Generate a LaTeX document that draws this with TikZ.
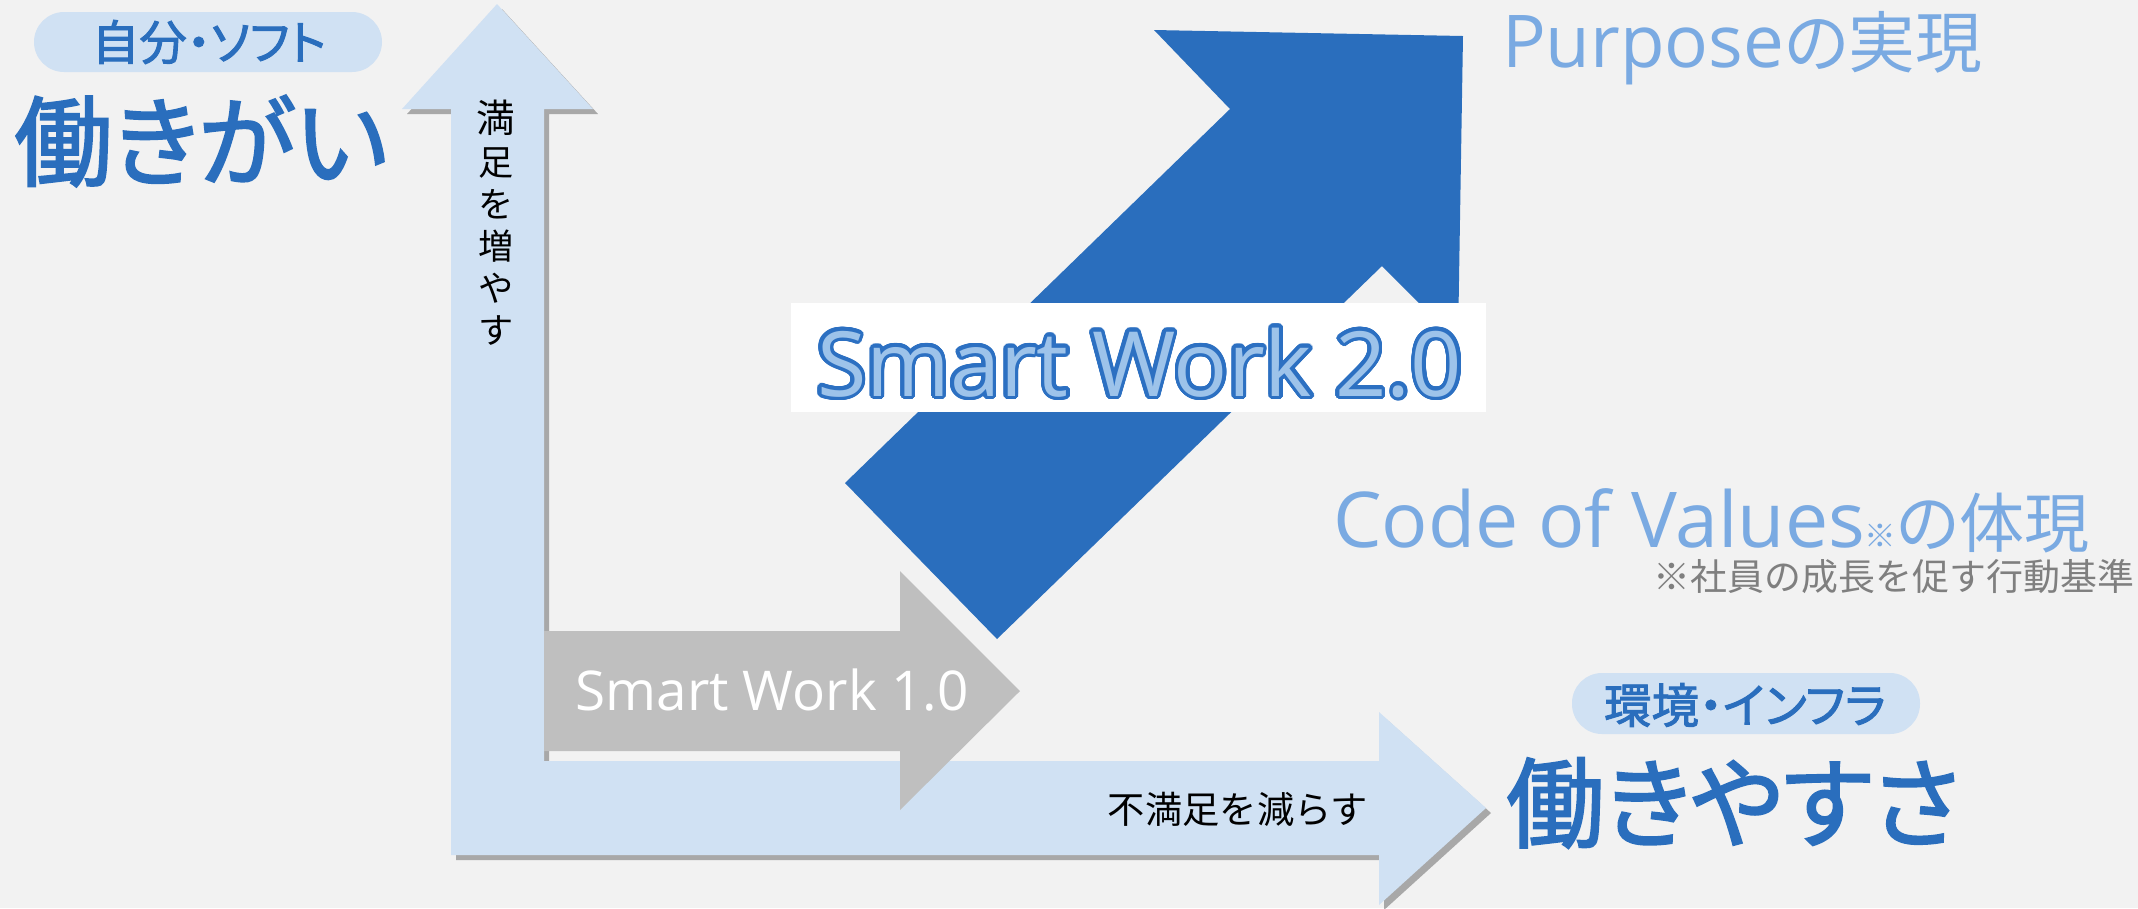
\documentclass[tikz,border=0pt]{standalone}
\usepackage{fontspec}
\setmainfont{Noto Sans CJK JP}
\newfontfamily\jpp[RawFeature=+palt]{Noto Sans CJK JP}
\newfontfamily\jpm[RawFeature=+palt,FakeBold=2]{Noto Sans CJK JP}
\newfontfamily\lat{Open Sans}
\usepackage{contour}
\contournumber{32}
\usetikzlibrary{shadows}
\definecolor{bg}{HTML}{F2F2F2}
\definecolor{lblue}{HTML}{D0E1F3}
\definecolor{arrgray}{HTML}{BFBFBF}
\definecolor{dblue}{HTML}{2A6EBD}
\definecolor{mblue}{HTML}{7AAAE2}
\definecolor{swfill}{HTML}{9DC3EA}
\definecolor{swline}{HTML}{2C70C2}
\definecolor{notegray}{HTML}{7F7F7F}
\tikzset{
  lshadow/.style={drop shadow={shadow xshift=0.05cm,shadow yshift=-0.05cm,fill=black,opacity=0.3}},
  txt/.style={inner sep=0pt,outer sep=0pt},
  pill/.style={fill=lblue,rounded corners=0.3cm},
}
\begin{document}
\begin{tikzpicture}[x=0.01cm,y=-0.01cm]
\fill[bg] (0,0) rectangle (2138,908);
\useasboundingbox (0,0) rectangle (2138,908);
% L shaped arrow
\fill[lblue,lshadow] (451,109) -- (402,109) -- (497,4) -- (593,109) -- (544,109)
  -- (544,761) -- (1379,761) -- (1379,712) -- (1486,808) -- (1379,905) -- (1379,855)
  -- (451,855) -- cycle;
% gray arrow
\fill[arrgray] (544,631) -- (900,631) -- (900,571) -- (1020,691) -- (900,810)
  -- (900,751) -- (544,751) -- cycle;
% blue diagonal arrow
\fill[dblue] (845,483) -- (1230,109) -- (1154,30) -- (1463,36) -- (1458,342)
  -- (1382,266) -- (997,639) -- cycle;
% white box
\fill[white] (791,303) rectangle (1486,412);
\node[txt,anchor=base west] (sw2) at (817,396)
  {\fontsize{25.6pt}{25.6pt}\lat\contourlength{1pt}\textcolor{swfill}{\contour{swline}{Smart Work 2.0}}};
\node[txt,anchor=center,text=white] (sw1) at (772,690) {\fontsize{15.6pt}{15.6pt}\lat Smart Work 1.0};
% labels
\fill[pill] (34,12) rectangle (382,72);
\node[txt,text=dblue] (soft) at (209,42) {\fontsize{13.5pt}{13.5pt}\jpm 自分・ソフト};
\node[txt,text=dblue,anchor=west] (gai) at (14,141) {\fontsize{28pt}{28pt}\jpm 働きがい};
\fill[pill] (1572,673) rectangle (1920,734);
\node[txt,text=dblue] (infra) at (1745,705) {\fontsize{13.5pt}{13.5pt}\jpm 環境・インフラ};
\node[txt,text=dblue,anchor=west] (yasu) at (1506,803) {\fontsize{28pt}{28pt}\jpm 働きやすさ};
\node[txt,align=center] (up) at (496,223) {\fontsize{11pt}{10.6pt}\selectfont\lineskiplimit=-\maxdimen 満\\足\\を\\増\\や\\す};
\node[txt] (down) at (1238,809) {\fontsize{10.6pt}{10.6pt}\selectfont 不満足を減らす};
\node[txt,text=mblue,anchor=base west] (purpose) at (1502,67)
  {\fontsize{20.7pt}{20.7pt}\lat Purpose\jpp\fontsize{19pt}{19pt}\selectfont の実現};
\node[txt,text=mblue,anchor=base west] (code) at (1333,547)
  {\fontsize{21.9pt}{21.9pt}\lat Code of Values{\jpp\fontsize{9pt}{9pt}\selectfont ※}\jpp\fontsize{18.5pt}{18.5pt}\selectfont の体現};
\node[txt,text=notegray,anchor=base east] (note) at (2134,590)
  {\fontsize{10.5pt}{10.5pt}\selectfont ※社員の成長を促す行動基準};
\end{tikzpicture}
\end{document}
